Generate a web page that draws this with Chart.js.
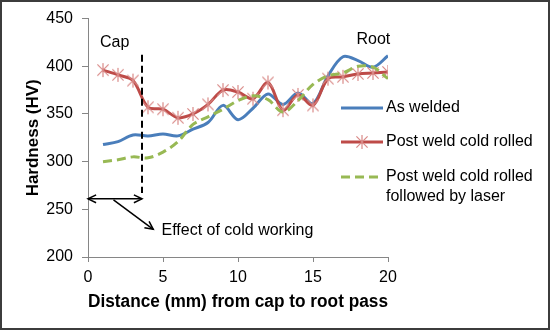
<!DOCTYPE html>
<html>
<head>
<meta charset="utf-8">
<script src="https://cdn.jsdelivr.net/npm/chart.js@4.4.0/dist/chart.umd.min.js"></script>
<style>
html,body{margin:0;padding:0;background:#fff;}
#wrap{width:550px;height:330px;position:relative;}
canvas{display:block;}
</style>
</head>
<body>
<div id="wrap"><canvas id="c" width="550" height="330"></canvas></div>
<script>
// ---- data ----
const distances = [1, 2, 3, 4, 5, 6, 7, 8, 9, 10, 11, 12, 13, 14, 15, 16, 17, 18, 19, 20];
const asWelded = [318, 321, 328, 327, 329, 327, 334, 341, 359, 344, 356, 371, 360, 372, 361, 390, 410, 406, 399, 411];
const coldRolled = [396, 391, 385, 357, 355, 346, 350, 360, 375, 373, 366, 383, 354, 370, 359, 387, 389, 392, 393, 394];
const coldRolledLaser = [300, 302, 305, 304, 310, 321, 339, 347, 355, 364, 369, 365, 352, 364, 381, 390, 393, 400, 399, 387];
const seriesNames = ['As welded', 'Post weld cold rolled', ['Post weld cold rolled', 'followed by laser']];
const xTicks = [0, 5, 10, 15, 20];
const yTicks = [200, 250, 300, 350, 400, 450];
const xTitle = 'Distance (mm) from cap to root pass';
const yTitle = 'Hardness (HV)';

// annotation anchors in data units
const capBoundary = 3.6;
const capLine = [412, 267];
const arrowLevel = 261;
const pointerFrom = [1.7, 260];
const pointerTo = [4.35, 229];
const capLabel = {text: 'Cap', x: 0.8, y: 425};
const rootLabel = {text: 'Root', x: 17.9, y: 428};
const effectLabel = {text: 'Effect of cold working', x: 4.9, y: 228};

const FONT = '"Liberation Sans", Arial, sans-serif';
const BLUE = '#4A7EBB', RED = '#BE4B48', GREEN = '#98B954', MARK = '#D98A88', AXIS = '#868686';

Chart.defaults.font.family = FONT;
Chart.defaults.color = '#000';

// asterisk marker (Excel "star")
function starMarker(r) {
  const c = document.createElement('canvas');
  const s = r * 2 + 2;
  c.width = s; c.height = s;
  const g = c.getContext('2d');
  g.strokeStyle = MARK; g.lineWidth = 1.2;
  const m = s / 2, d = r * 0.8;
  g.beginPath();
  g.moveTo(m - d, m - d); g.lineTo(m + d, m + d);
  g.moveTo(m + d, m - d); g.lineTo(m - d, m + d);
  g.moveTo(m, m - r); g.lineTo(m, m + r);
  g.stroke();
  return c;
}
const marker = starMarker(7);

function arrowHead(ctx, x1, y1, x2, y2, len) {
  const a = Math.atan2(y2 - y1, x2 - x1);
  const sp = 0.45;
  ctx.beginPath();
  ctx.moveTo(x2 - len * Math.cos(a - sp), y2 - len * Math.sin(a - sp));
  ctx.lineTo(x2, y2);
  ctx.lineTo(x2 - len * Math.cos(a + sp), y2 - len * Math.sin(a + sp));
  ctx.stroke();
}

const decorPlugin = {
  id: 'decor',
  afterDatasetsDraw(chart) {
    const {ctx, scales: {x, y}} = chart;
    ctx.save();
    // dashed cap boundary
    const xc = x.getPixelForValue(capBoundary);
    ctx.strokeStyle = '#000';
    ctx.lineWidth = 2;
    ctx.setLineDash([7, 4]);
    ctx.beginPath();
    ctx.moveTo(xc, y.getPixelForValue(capLine[0]));
    ctx.lineTo(xc, y.getPixelForValue(capLine[1]));
    ctx.stroke();
    ctx.setLineDash([]);
    // double arrow
    ctx.lineWidth = 1.5;
    const ya = y.getPixelForValue(arrowLevel);
    const x0 = x.getPixelForValue(0);
    ctx.beginPath(); ctx.moveTo(x0, ya); ctx.lineTo(xc, ya); ctx.stroke();
    arrowHead(ctx, xc, ya, x0, ya, 9);
    arrowHead(ctx, x0, ya, xc, ya, 9);
    // pointer arrow
    const px1 = x.getPixelForValue(pointerFrom[0]), py1 = y.getPixelForValue(pointerFrom[1]);
    const px2 = x.getPixelForValue(pointerTo[0]), py2 = y.getPixelForValue(pointerTo[1]);
    ctx.beginPath(); ctx.moveTo(px1, py1); ctx.lineTo(px2, py2); ctx.stroke();
    arrowHead(ctx, px1, py1, px2, py2, 9);
    // labels
    ctx.fillStyle = '#000';
    ctx.font = '16px ' + FONT;
    ctx.textBaseline = 'middle';
    ctx.textAlign = 'left';
    [capLabel, rootLabel, effectLabel].forEach(l => {
      ctx.fillText(l.text, x.getPixelForValue(l.x), y.getPixelForValue(l.y));
    });
    ctx.restore();
  },
  afterDraw(chart) {
    const {ctx} = chart;
    ctx.save();
    // legend
    const lx1 = 341, lx2 = 383, tx = 386;
    const rows = [108, 142, 177];
    const colors = [BLUE, RED, GREEN];
    ctx.lineWidth = 3;
    rows.forEach((ry, i) => {
      ctx.strokeStyle = colors[i];
      ctx.setLineDash(i === 2 ? [9, 5] : []);
      ctx.beginPath(); ctx.moveTo(lx1, ry); ctx.lineTo(lx2, ry); ctx.stroke();
    });
    ctx.setLineDash([]);
    ctx.drawImage(marker, (lx1 + lx2) / 2 - marker.width / 2, rows[1] - marker.height / 2);
    ctx.fillStyle = '#000';
    ctx.font = '16px ' + FONT;
    ctx.textBaseline = 'middle';
    ctx.textAlign = 'left';
    seriesNames.forEach((n, i) => {
      const lines = Array.isArray(n) ? n : [n];
      lines.forEach((t, k) => ctx.fillText(t, tx, rows[i] + k * 20));
    });
    // outer frame
    ctx.strokeStyle = '#3c3c3c';
    ctx.lineWidth = 2;
    ctx.strokeRect(1, 1, 548, 328);
    ctx.restore();
  }
};

const toPts = arr => arr.map((v, i) => ({x: distances[i], y: v}));

new Chart(document.getElementById('c'), {
  type: 'line',
  data: {
    datasets: [
      {label: seriesNames[0], data: toPts(asWelded), borderColor: BLUE, borderWidth: 3, pointRadius: 0, tension: 0.33, order: 2},
      {label: seriesNames[1], data: toPts(coldRolled), borderColor: RED, borderWidth: 3, pointStyle: marker, pointRadius: 7, pointHoverRadius: 7, tension: 0.33, order: 1},
      {label: seriesNames[2].join(' '), data: toPts(coldRolledLaser), borderColor: GREEN, borderWidth: 3, borderDash: [9, 5], pointRadius: 0, tension: 0.33, order: 0}
    ]
  },
  options: {
    responsive: false,
    devicePixelRatio: 1,
    animation: false,
    layout: {padding: {left: 0, top: 17, right: 162, bottom: 0}},
    plugins: {legend: {display: false}, tooltip: {enabled: false}},
    scales: {
      x: {
        type: 'linear', min: xTicks[0], max: xTicks[xTicks.length - 1],
        afterBuildTicks: s => { s.ticks = xTicks.map(v => ({value: v})); },
        afterFit: s => { s.height = 73; },
        ticks: {font: {size: 16}, color: '#000', padding: 6, maxRotation: 0},
        grid: {drawOnChartArea: false, drawTicks: true, tickLength: 5, color: AXIS},
        border: {color: AXIS, width: 1},
        title: {display: true, text: xTitle, font: {size: 18, weight: 'bold'}, color: '#000', padding: {top: 0, bottom: 17}}
      },
      y: {
        type: 'linear', min: yTicks[0], max: yTicks[yTicks.length - 1],
        afterBuildTicks: s => { s.ticks = yTicks.map(v => ({value: v})); },
        afterFit: s => { s.width = 88; },
        ticks: {font: {size: 16}, color: '#000', padding: 9},
        grid: {drawOnChartArea: false, drawTicks: true, tickLength: 6, color: AXIS},
        border: {color: AXIS, width: 1},
        title: {display: true, text: yTitle, font: {size: 17, weight: 'bold'}, color: '#000', padding: {top: 23, bottom: 0}}
      }
    }
  },
  plugins: [decorPlugin]
});
</script>
</body>
</html>
